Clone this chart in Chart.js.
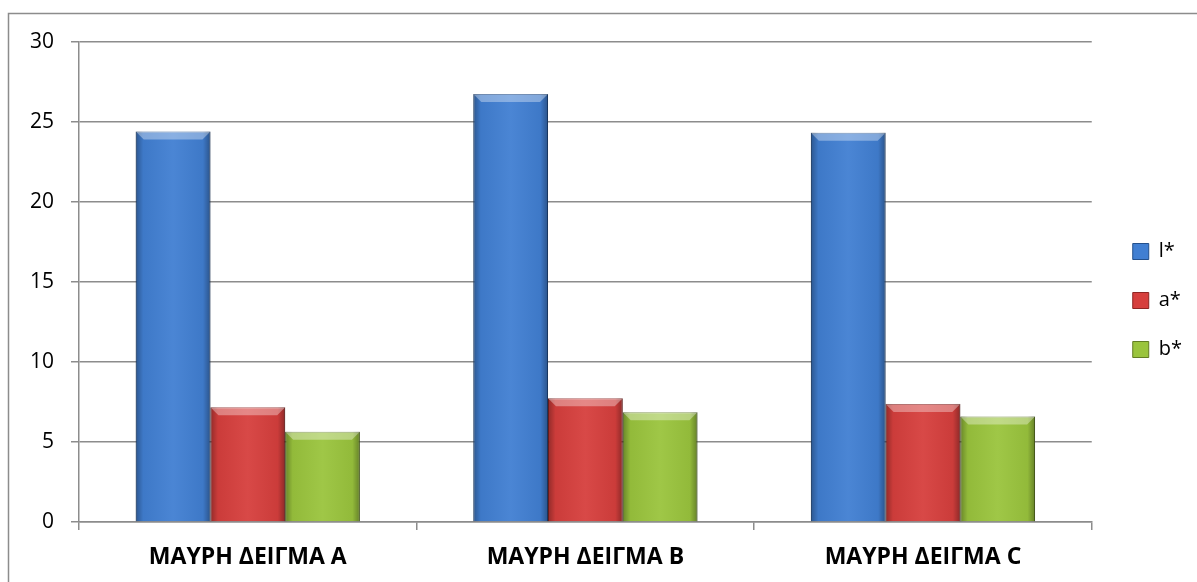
<!DOCTYPE html>
<html>

<head>
    <meta charset="UTF-8">
    <title>ΜΑΥΡΗ ΔΕΙΓΜΑ</title>
    <script src="https://cdn.jsdelivr.net/npm/chart.js@4.4.1/dist/chart.umd.min.js"></script>
    <style>
        body { margin: 0; background: #ffffff; overflow: hidden; }
    </style>
</head>

<body>
    <canvas id="chart" width="1197" height="582"></canvas>
    <script>
        // samples and colour coordinates
        const samples = ['ΜΑΥΡΗ ΔΕΙΓΜΑ A', 'ΜΑΥΡΗ ΔΕΙΓΜΑ B', 'ΜΑΥΡΗ ΔΕΙΓΜΑ C'];
        const lStar = [24.4, 26.75, 24.33];
        const aStar = [7.17, 7.73, 7.38];
        const bStar = [5.64, 6.86, 6.6];
        const yTicks = [0, 5, 10, 15, 20, 25, 30];

        const gridColor = '#8c8c8c';
        const font = 'Open Sans';

        // outer frame of the chart object
        const frame = {
            id: 'frame',
            beforeDraw(chart) {
                const ctx = chart.ctx;
                ctx.save();
                ctx.strokeStyle = gridColor;
                ctx.lineWidth = 1.5;
                ctx.beginPath();
                ctx.moveTo(8.5, chart.height);
                ctx.lineTo(8.5, 13.5);
                ctx.lineTo(chart.width, 13.5);
                ctx.stroke();
                ctx.restore();
            }
        };

        // bevelled look on every bar
        const bevel = {
            id: 'bevel',
            afterDatasetsDraw(chart) {
                const ctx = chart.ctx;
                chart.data.datasets.forEach((ds, i) => {
                    chart.getDatasetMeta(i).data.forEach(bar => {
                        const { x, y, base, width } = bar.getProps(['x', 'y', 'base', 'width'], true);
                        const l = x - width / 2, r = x + width / 2;
                        const g = ctx.createLinearGradient(l, 0, r, 0);
                        g.addColorStop(0, 'rgba(0,0,0,0.32)');
                        g.addColorStop(0.1, 'rgba(0,0,0,0.05)');
                        g.addColorStop(0.5, 'rgba(255,255,255,0.05)');
                        g.addColorStop(0.9, 'rgba(0,0,0,0.05)');
                        g.addColorStop(1, 'rgba(0,0,0,0.34)');
                        ctx.save();
                        ctx.fillStyle = g;
                        ctx.fillRect(l, y, width, base - y);
                        const b = 8;
                        ctx.beginPath();
                        ctx.moveTo(l, y);
                        ctx.lineTo(r, y);
                        ctx.lineTo(r - b, y + b);
                        ctx.lineTo(l + b, y + b);
                        ctx.closePath();
                        ctx.fillStyle = 'rgba(255,255,255,0.35)';
                        ctx.fill();
                        ctx.restore();
                    });
                });
            }
        };

        const barStyle = { barPercentage: 1, categoryPercentage: 0.664, borderWidth: 1 };

        new Chart(document.getElementById('chart').getContext('2d'), {
            type: 'bar',
            data: {
                labels: samples,
                datasets: [
                    { label: 'l*', data: lStar, backgroundColor: '#417fd2', borderColor: '#24508c', ...barStyle },
                    { label: 'a*', data: aStar, backgroundColor: '#d63f3d', borderColor: '#8e2523', ...barStyle },
                    { label: 'b*', data: bStar, backgroundColor: '#9ac43d', borderColor: '#627d24', ...barStyle }
                ]
            },
            options: {
                responsive: false,
                animation: false,
                layout: { padding: { left: 13, top: 28, right: 5, bottom: 9 } },
                plugins: {
                    tooltip: { enabled: false },
                    legend: {
                        position: 'right',
                        labels: {
                            boxWidth: 16,
                            boxHeight: 16,
                            padding: 29,
                            color: '#000',
                            font: { family: font, size: 20 }
                        }
                    }
                },
                scales: {
                    x: {
                        grid: { drawOnChartArea: false, tickLength: 8, color: gridColor, lineWidth: 1.5 },
                        border: { color: gridColor, width: 1.5 },
                        ticks: { color: '#000', padding: 14, font: { family: font, size: 23, weight: 'bold' } },
                        afterFit: s => { s.height = 51; }
                    },
                    y: {
                        min: 0,
                        max: 30,
                        afterBuildTicks: s => { s.ticks = yTicks.map(v => ({ value: v })); },
                        grid: { tickLength: 8, color: gridColor, lineWidth: 1.5 },
                        border: { color: gridColor, width: 1.5 },
                        ticks: { color: '#000', padding: 17, font: { family: font, size: 21 } }
                    },
                    // empty axes used only as spacers
                    gap: {
                        position: 'right',
                        min: 0,
                        max: 1,
                        grid: { display: false },
                        border: { display: false },
                        ticks: { display: false },
                        afterFit: s => { s.width = 12; }
                    },
                    headroom: {
                        position: 'top',
                        type: 'linear',
                        min: 0,
                        max: 1,
                        grid: { display: false },
                        border: { display: false },
                        ticks: { display: false },
                        afterFit: s => { s.height = 14; }
                    }
                }
            },
            plugins: [frame, bevel]
        });
    </script>
</body>

</html>
